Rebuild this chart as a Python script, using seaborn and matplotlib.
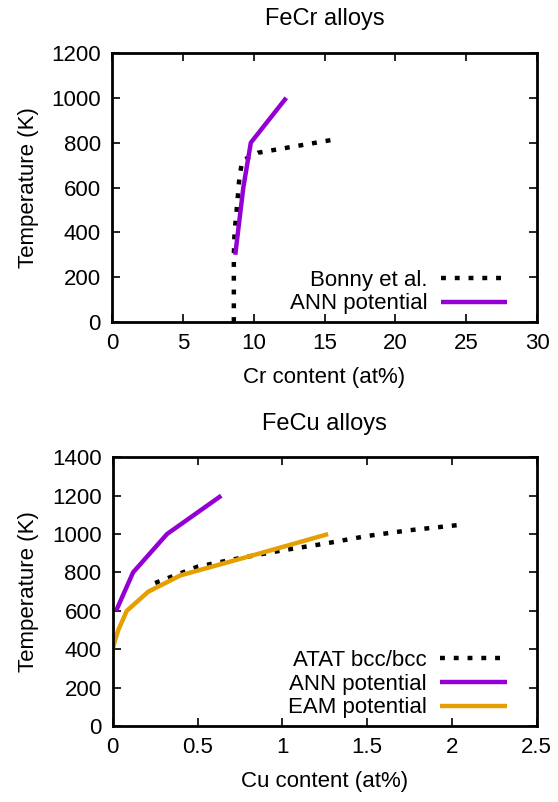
import matplotlib
matplotlib.use("Agg")
import matplotlib.pyplot as plt
import seaborn as sns

# ---- data ----
bonny_cr = [8.6, 8.6, 8.65, 8.8, 9.0, 9.2, 10.3, 15.5]
bonny_T = [0, 300, 400, 500, 650, 720, 755, 812]
ann_cr = [8.7, 9.27, 9.8, 12.3]
ann_cr_T = [300, 600, 800, 1000]

atat_cu = [0.25, 0.5, 0.75, 1.0, 1.25, 1.5, 1.75, 2.07]
atat_T = [745, 830, 875, 915, 950, 990, 1020, 1050]
ann_cu = [0.02, 0.12, 0.32, 0.64]
ann_cu_T = [600, 800, 1000, 1200]
eam_cu = [0.0, 0.015, 0.033, 0.083, 0.21, 0.4, 0.85, 1.27]
eam_cu_T = [400, 450, 500, 600, 700, 785, 895, 1000]

cr_ticks = [0, 5, 10, 15, 20, 25, 30]
cr_T_ticks = [0, 200, 400, 600, 800, 1000, 1200]
cu_ticks = [0, 0.5, 1, 1.5, 2, 2.5]
cu_tick_labels = ["0", "0.5", "1", "1.5", "2", "2.5"]
cu_T_ticks = [0, 200, 400, 600, 800, 1000, 1200, 1400]

sns.set_style("ticks")
plt.rcParams["font.family"] = ["Liberation Sans", "DejaVu Sans"]
FS = 16
plt.rcParams["font.size"] = FS
plt.rcParams["text.color"] = "black"
plt.rcParams["axes.labelcolor"] = "black"
plt.rcParams["xtick.color"] = "black"
plt.rcParams["ytick.color"] = "black"

PURPLE = "#9400D3"
ORANGE = "#E69F00"
DOT = (0, (1.1, 2.0))

fig = plt.figure(figsize=(5.58, 8.02), dpi=100)
ax1 = fig.add_axes([112 / 558, 1 - 322 / 802, 425 / 558, 269 / 802])
ax2 = fig.add_axes([112.7 / 558, 1 - 726 / 802, 424 / 558, 268.7 / 802])

lw = 3.2
sns.lineplot(x=bonny_cr, y=bonny_T, ax=ax1, estimator=None, sort=False,
             color="black", lw=lw, linestyle=DOT, label="Bonny et al.")
sns.lineplot(x=ann_cr, y=ann_cr_T, ax=ax1, estimator=None, sort=False,
             color=PURPLE, lw=lw, label="ANN potential")

sns.lineplot(x=atat_cu, y=atat_T, ax=ax2, estimator=None, sort=False,
             color="black", lw=lw, linestyle=DOT, label="ATAT bcc/bcc")
sns.lineplot(x=ann_cu, y=ann_cu_T, ax=ax2, estimator=None, sort=False,
             color=PURPLE, lw=lw, label="ANN potential")
sns.lineplot(x=eam_cu, y=eam_cu_T, ax=ax2, estimator=None, sort=False,
             color=ORANGE, lw=lw, label="EAM potential")

for l in ax1.lines + ax2.lines:
    l.set_dash_capstyle("butt")
    l.set_solid_capstyle("butt")

ax1.set_xlim(0, 30)
ax1.set_ylim(0, 1200)
ax1.set_xticks(cr_ticks)
ax1.set_yticks(cr_T_ticks)
ax1.set_xlabel("Cr content (at%)", labelpad=9)
ax1.set_ylabel("Temperature (K)", labelpad=9)
ax1.set_title("FeCr alloys", pad=20, fontsize=17)

ax2.set_xlim(0, 2.5)
ax2.set_ylim(0, 1400)
ax2.set_xticks(cu_ticks)
ax2.set_xticklabels(cu_tick_labels)
ax2.set_yticks(cu_T_ticks)
ax2.set_xlabel("Cu content (at%)", labelpad=9)
ax2.set_ylabel("Temperature (K)", labelpad=9)
ax2.set_title("FeCu alloys", pad=20, fontsize=17)

for ax in (ax1, ax2):
    for s in ax.spines.values():
        s.set_visible(True)
        s.set_linewidth(2)
        s.set_color("black")
    ax.tick_params(direction="in", top=True, right=True, length=6, width=1.2,
                   labelsize=FS, colors="black")
    ax.tick_params(axis="x", pad=8)
    ax.tick_params(axis="y", pad=8)
    leg = ax.legend(loc="lower right", bbox_to_anchor=(0.951, -0.005),
                    frameon=False, markerfirst=False,
                    handlelength=3.0, handletextpad=0.6, labelspacing=0.12,
                    borderaxespad=0.0, fontsize=FS)

fig.savefig("out.png", dpi=100)
